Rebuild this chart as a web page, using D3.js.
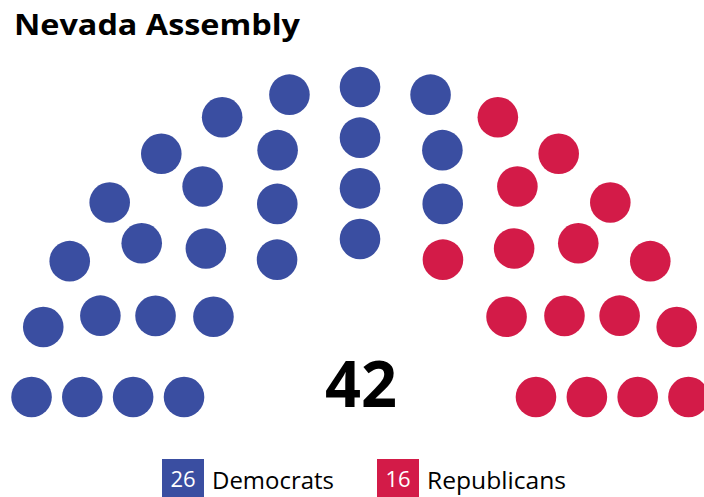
<!DOCTYPE html>
<html>
<head>
<meta charset="utf-8">
<script src="https://cdn.jsdelivr.net/npm/d3@7"></script>
<style>
  html, body { margin: 0; padding: 0; background: #fff; }
  svg { display: block; }
</style>
</head>
<body>
<svg id="chart" width="704" height="497"></svg>
<script>
// ---- data ----
const title = "Nevada Assembly";
const parties = ["Democrats", "Republicans"];
const seats = [26, 16];
const colors = ["#3a4ea1", "#d31b48"];
const ringSizes = [15, 11, 9, 7]; // outer to inner
const total = d3.sum(seats);

// ---- layout ----
const svg = d3.select("#chart");
const cx = 360, cy = 416, baseOffset = 19, seatR = 20.3;
const font = "'Open Sans', Lato, sans-serif";

const rScale = d3.scaleLinear().domain([0, ringSizes.length - 1]).range([329, 177]);

// build seats
let all = [];
ringSizes.forEach((n, ri) => {
  const R = rScale(ri);
  const a0 = Math.asin(baseOffset / R);
  const aScale = d3.scaleLinear().domain([0, n - 1]).range([Math.PI - a0, a0]);
  for (let i = 0; i < n; i++) {
    const a = aScale(i);
    all.push({ ring: ri, R, a, x: cx + R * Math.cos(a), y: cy - R * Math.sin(a) });
  }
});
// order seats from left (angle descending), assign parties
all.sort((p, q) => (q.a - p.a) || (q.R - p.R));
const partyIdx = [];
seats.forEach((s, pi) => { for (let k = 0; k < s; k++) partyIdx.push(pi); });
all.forEach((d, i) => d.party = partyIdx[i]);

svg.append("g").selectAll("circle").data(all).join("circle")
  .attr("cx", d => d.x).attr("cy", d => d.y).attr("r", seatR)
  .attr("fill", d => colors[d.party]);

// title
svg.append("text").attr("x", 14).attr("y", 35)
  .attr("font-family", font).attr("font-weight", 700)
  .attr("font-size", 28).attr("fill", "#000")
  .attr("textLength", 286).attr("lengthAdjust", "spacingAndGlyphs")
  .text(title);

// total
svg.append("text").attr("x", 361).attr("y", 407).attr("text-anchor", "middle")
  .attr("font-family", font).attr("font-weight", 700)
  .attr("font-size", 64).attr("fill", "#000")
  .attr("textLength", 72).attr("lengthAdjust", "spacingAndGlyphs")
  .text(total);

// legend
const legendX = [162, 377];
const labelW = [122, 139];
parties.forEach((p, i) => {
  const g = svg.append("g");
  g.append("rect").attr("x", legendX[i]).attr("y", 459).attr("width", 42).attr("height", 40)
    .attr("fill", colors[i]);
  g.append("text").attr("x", legendX[i] + 21).attr("y", 487).attr("text-anchor", "middle")
    .attr("font-family", font).attr("font-size", 22)
    .attr("fill", "#fff").text(seats[i]);
  g.append("text").attr("x", legendX[i] + 50).attr("y", 488.5)
    .attr("font-family", font).attr("font-size", 24)
    .attr("fill", "#000")
    .attr("textLength", labelW[i]).attr("lengthAdjust", "spacingAndGlyphs")
    .text(p);
});
</script>
</body>
</html>
